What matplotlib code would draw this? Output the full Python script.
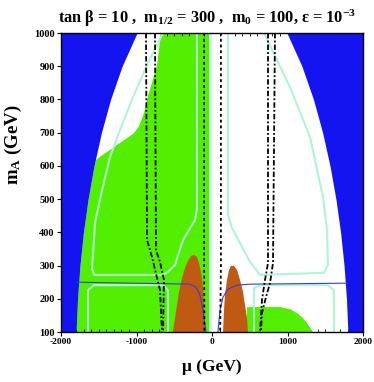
import matplotlib
matplotlib.use("Agg")
import matplotlib.pyplot as plt
import numpy as np
from matplotlib.ticker import MultipleLocator

plt.rcParams['font.family'] = ['Liberation Serif', 'DejaVu Serif']
plt.rcParams['font.weight'] = 'bold'
plt.rcParams['mathtext.fontset'] = 'custom'
plt.rcParams['mathtext.rm'] = 'Liberation Serif:bold'
plt.rcParams['mathtext.it'] = 'Liberation Serif:bold'
plt.rcParams['mathtext.bf'] = 'Liberation Serif:bold'
plt.rcParams['mathtext.default'] = 'rm'

# ---------------- data (mu in GeV, mA in GeV) ----------------
# excluded (blue) boundary, |mu| at given mA
blue_mA = [100, 200, 300, 400, 500, 600, 700, 800, 900, 1000]
blue_mu = [1800, 1781, 1749, 1703, 1641, 1563, 1465, 1344, 1191, 993]

# white region top-left: right edge (green edge)
white_mA = [600, 618, 627, 640, 657, 670, 685, 700, 720, 759, 807, 853, 904, 950, 1000]
white_mu = [-1600, -1550, -1500, -1420, -1311, -1230, -1130, -1040, -975, -910, -861,
            -800, -735, -710, -689]

green_right_mu = -35

# bottom-right green region
gr2_mu = [464, 464, 901, 1040, 1126, 1200, 1258, 1338]
gr2_mA = [100, 175, 175, 168, 157, 143, 127, 100]

# brown regions
brownL_mu = [-517, -490, -464, -437, -397, -358, -318, -278, -238, -199, -172, -146, -119, -106, -93]
brownL_mA = [100, 142, 181, 220, 263, 293, 314, 329, 332, 326, 308, 281, 235, 181, 100]
brownR_mu = [146, 159, 172, 199, 225, 252, 291, 331, 371, 411, 437, 464, 477]
brownR_mA = [100, 166, 211, 257, 287, 299, 299, 287, 257, 220, 181, 142, 100]

# mint contours
mintL1_mu = [-649, -848, -1046, -1219, -1351, -1391, -1457, -1550, -1589, -1560, -650, -583,
             -490, -384, -225, -200, -200]
mintL1_mA = [1000, 910, 807, 708, 627, 588, 527, 428, 290, 272, 272, 281,
             302, 377, 437, 470, 1000]
mintL2_mu = [-1642, -1642, -1563, -649, -583, -583]
mintL2_mA = [100, 226, 241, 241, 226, 100]
mintR1_mu = [689, 1033, 1298, 1470, 1523, 1536, 1483, 636, 503, 371, 265, 212, 212]
mintR1_mA = [1000, 837, 687, 506, 407, 302, 278, 272, 311, 368, 413, 452, 1000]
mintR2_mu = [556, 556, 636, 1536, 1616, 1616]
mintR2_mA = [100, 232, 241, 241, 226, 100]

# thin blue contour
blineL_mu = [-1788, -291, -212, -159, -119, -93, -79]
blineL_mA = [250, 244, 235, 211, 166, 121, 100]
blineR_mu = [79, 106, 146, 212, 331, 503, 1788]
blineR_mA = [100, 166, 205, 229, 241, 244, 247]

# dotted lines
dotL_mu = [-105, -105, -100]
dotL_mA = [1000, 300, 100]
dotR_mu = [118, 118, 108]
dotR_mA = [1000, 300, 100]

# dash-dot lines
ddA_mu = [-874, -861, -795, -689, -662]
ddA_mA = [1000, 377, 326, 226, 100]
ddB_mu = [-755, -742, -689, -636, -649]
ddB_mA = [1000, 347, 311, 257, 100]
ddC_mu = [742, 742, 702, 662, 636]
ddC_mA = [1000, 308, 257, 196, 100]
ddD_mu = [834, 808, 768, 715, 662, 649]
ddD_mA = [1000, 308, 247, 205, 157, 100]

xticks = [-2000, -1000, 0, 1000, 2000]
yticks = [100, 200, 300, 400, 500, 600, 700, 800, 900, 1000]

# ---------------- colors ----------------
BLUE = '#1414f0'
GREEN = '#52f000'
BROWN = '#c05a12'
MINT = '#aef5d6'

fig = plt.figure(figsize=(3.74, 3.82), dpi=100)
ax = fig.add_axes([61/374, 1-332/382, 302/374, 299/382])

bm = np.array(blue_mA)
bu = np.array(blue_mu)

# green main region
ax.fill_betweenx(bm, -bu, green_right_mu, color=GREEN, lw=0, zorder=1)
# mint strip near mu = 0
ax.fill_betweenx([100, 1000], green_right_mu, -5, color='#c8f8e0', lw=0, zorder=1)
# white upper-left region (left part hidden under blue)
ax.fill_betweenx(white_mA, -2000, white_mu, color='white', lw=0, zorder=2)
# bottom-right green
ax.fill(gr2_mu, gr2_mA, color=GREEN, lw=0, zorder=2)
# brown
ax.fill(brownL_mu, brownL_mA, color=BROWN, lw=0, zorder=3)
ax.fill(brownR_mu, brownR_mA, color=BROWN, lw=0, zorder=3)

# mint contours
for mu, ma in [(mintL1_mu, mintL1_mA), (mintL2_mu, mintL2_mA),
               (mintR1_mu, mintR1_mA), (mintR2_mu, mintR2_mA)]:
    ax.plot(mu, ma, color=MINT, lw=1.5, zorder=4, solid_joinstyle='round')

# blue excluded regions
ax.fill_betweenx(bm, -2000, -bu, color=BLUE, lw=0, zorder=5)
ax.fill_betweenx(bm, bu, 2000, color=BLUE, lw=0, zorder=5)

# thin blue line
ax.plot(blineL_mu, blineL_mA, color='#3a3ae0', lw=0.8, zorder=6)
ax.plot(blineR_mu, blineR_mA, color='#3a3ae0', lw=0.8, zorder=6)

# dotted lines
for mu, ma in [(dotL_mu, dotL_mA), (dotR_mu, dotR_mA)]:
    ax.plot(mu, ma, color='black', lw=1.3, ls=(0, (1.6, 1.6)), zorder=7)
# dash-dot lines
for mu, ma in [(ddA_mu, ddA_mA), (ddB_mu, ddB_mA), (ddC_mu, ddC_mA), (ddD_mu, ddD_mA)]:
    ax.plot(mu, ma, color='black', lw=1.3, ls=(0, (3, 1.2, 1, 1.2)), zorder=7)

ax.set_xlim(-2000, 2000)
ax.set_ylim(100, 1000)
ax.set_xticks(xticks)
ax.set_yticks(yticks)
ax.set_xticklabels([str(t) for t in xticks], fontsize=6.8, fontweight='bold')
ax.set_yticklabels([str(t) for t in yticks], fontsize=7.5, fontweight='bold')
ax.xaxis.set_minor_locator(MultipleLocator(100))
ax.yaxis.set_minor_locator(MultipleLocator(20))
ax.tick_params(which='major', direction='out', length=3, width=0.8, pad=1.5)
ax.tick_params(which='minor', direction='in', length=2, width=0.6,
               top=True, right=True)
for s in ax.spines.values():
    s.set_linewidth(1.0)
    s.set_zorder(10)

ax.set_xlabel('μ (GeV)', fontsize=12.5, fontweight='bold', labelpad=9)
ax.set_ylabel('m$_A$ (GeV)', fontsize=13.5, fontweight='bold')
ax.yaxis.set_label_coords(-0.122, 0.625)
ax.set_title(r'tan β = 10 ,  m$_{1/2}$ = 300 ,  m$_0$ = 100, ε = 10$^{-3}$',
             fontsize=11.8, fontweight='bold', pad=7, x=0.485)

fig.savefig('out.png', dpi=100)
